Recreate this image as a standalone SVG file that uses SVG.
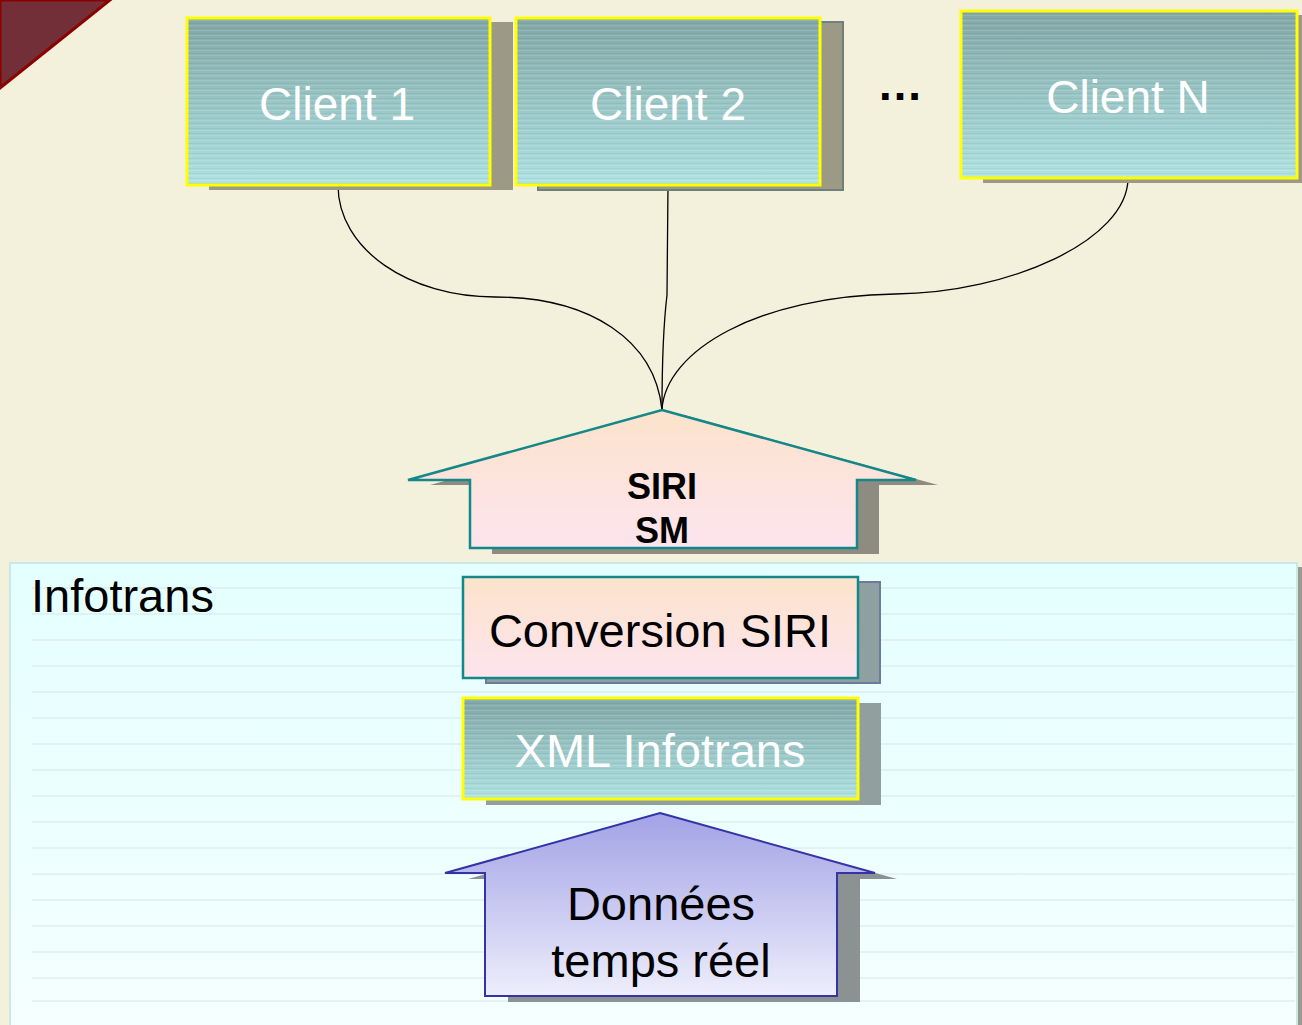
<svg xmlns="http://www.w3.org/2000/svg" width="1302" height="1025" viewBox="0 0 1302 1025">
<defs>
<linearGradient id="gClient" x1="0" y1="0" x2="0" y2="1"><stop offset="0" stop-color="#82A7A7"/><stop offset="1" stop-color="#B0E3E3"/></linearGradient>
<linearGradient id="gPeach" x1="0" y1="0" x2="0" y2="1"><stop offset="0" stop-color="#FCE3CB"/><stop offset="1" stop-color="#FDE4EE"/></linearGradient>
<linearGradient id="gBlue" x1="0" y1="0" x2="0" y2="1"><stop offset="0" stop-color="#A2A2E6"/><stop offset="1" stop-color="#EEEEFC"/></linearGradient>
<linearGradient id="gPanel" x1="0" y1="0" x2="0" y2="1"><stop offset="0" stop-color="#E4FFFF"/><stop offset="1" stop-color="#F5FFFF"/></linearGradient>
<pattern id="stripes" width="8" height="5" patternUnits="userSpaceOnUse"><rect x="0" y="0" width="8" height="1" fill="#ffffff" fill-opacity="0.12"/><rect x="0" y="3" width="8" height="1" fill="#000000" fill-opacity="0.05"/></pattern>
</defs>
<style>
.sh{fill:#9C9A84}
.client{fill:url(#gClient);stroke:#FFFF00;stroke-width:3}
.wt{font-family:"Liberation Sans",Arial,sans-serif;fill:#FFFFFF;text-anchor:middle}
.bt{font-family:"Liberation Sans",Arial,sans-serif;fill:#000000;text-anchor:middle}
.conn{fill:none;stroke:#000000;stroke-width:1.3}
.rule{stroke:#D8E6E6;stroke-width:1.2}
</style>
<rect x="0" y="0" width="1302" height="1025" fill="#F3F0DC"/>
<polygon points="0,0 110,0 0,88" fill="#722F37" stroke="#8B0000" stroke-width="3"/>

<g id="infotrans">
<rect x="1296" y="567" width="6" height="458" fill="#9A9A8E"/>
<rect x="10" y="563" width="1287" height="470" fill="url(#gPanel)" stroke="#CDE6E6" stroke-width="2"/>
<g class="rule">
<line x1="32" y1="588" x2="1295" y2="588"/><line x1="32" y1="614" x2="1295" y2="614"/><line x1="32" y1="640" x2="1295" y2="640"/><line x1="32" y1="666" x2="1295" y2="666"/><line x1="32" y1="692" x2="1295" y2="692"/><line x1="32" y1="718" x2="1295" y2="718"/><line x1="32" y1="744" x2="1295" y2="744"/><line x1="32" y1="770" x2="1295" y2="770"/><line x1="32" y1="796" x2="1295" y2="796"/><line x1="32" y1="822" x2="1295" y2="822"/><line x1="32" y1="848" x2="1295" y2="848"/><line x1="32" y1="874" x2="1295" y2="874"/><line x1="32" y1="900" x2="1295" y2="900"/><line x1="32" y1="926" x2="1295" y2="926"/><line x1="32" y1="952" x2="1295" y2="952"/><line x1="32" y1="978" x2="1295" y2="978"/><line x1="32" y1="1001" x2="1295" y2="1001"/>
</g>
<text class="bt" x="31" y="612" font-size="47" style="text-anchor:start">Infotrans</text>
</g>

<g id="connectors">
<path class="conn" d="M338,185 C338,250 410,297 495,297 C590,297 655,340 662,410"/>
<path class="conn" d="M668,185 L667,295 C664,320 662,370 662,410"/>
<path class="conn" d="M1128,178 C1128,240 1010,293 895,294 C760,296 665,350 662,410"/>
</g>

<g id="client1">
<rect class="sh" x="209" y="22" width="304" height="168"/>
<rect class="client" x="187" y="18" width="303" height="167"/>
<rect x="188" y="19" width="301" height="165" fill="url(#stripes)"/>
<text class="wt" x="337" y="120" font-size="46">Client 1</text>
</g>

<g id="client2">
<rect x="538" y="22" width="305" height="168" fill="#9C9A84" stroke="#6E807E" stroke-width="2"/>
<rect class="client" x="516" y="18" width="304" height="167"/>
<rect x="517" y="19" width="302" height="165" fill="url(#stripes)"/>
<text class="wt" x="668" y="120" font-size="46">Client 2</text>
</g>

<g id="ellipsis">
<text class="bt" x="900" y="100" font-size="46" font-weight="bold">…</text>
</g>

<g id="clientN">
<rect class="sh" x="983" y="15" width="319" height="168"/>
<rect class="client" x="961" y="11" width="336" height="167"/>
<rect x="962" y="12" width="334" height="165" fill="url(#stripes)"/>
<text class="wt" x="1128" y="113" font-size="46">Client N</text>
</g>

<g id="siri">
<polygon points="684,415 938,485 879,485 879,554 492,554 492,485 430,485" fill="#8E8C80"/>
<polygon points="662,410 916,480 857,480 857,548 470,548 470,480 408,480" fill="url(#gPeach)" stroke="#148888" stroke-width="2.5"/>
<text class="bt" x="662" y="499" font-size="36" font-weight="bold">SIRI</text>
<text class="bt" x="662" y="543" font-size="36" font-weight="bold">SM</text>
</g>

<g id="conversion">
<rect x="486" y="582" width="394" height="101" fill="#8FA0A0" stroke="#6E7A99" stroke-width="2"/>
<rect x="463" y="577" width="395" height="101" fill="url(#gPeach)" stroke="#148888" stroke-width="2.5"/>
<text class="bt" x="660" y="647" font-size="47">Conversion SIRI</text>
</g>

<g id="xml">
<rect x="486" y="703" width="395" height="102" fill="#919F9F"/>
<rect class="client" x="463" y="698" width="395" height="101"/>
<rect x="464" y="699" width="393" height="99" fill="url(#stripes)"/>
<text class="wt" x="660" y="767" font-size="47">XML Infotrans</text>
</g>

<g id="donnees">
<polygon points="682,819 897,879 860,879 860,1002 508,1002 508,879 468,879" fill="#8C9292"/>
<polygon points="660,813 875,873 837,873 837,996 485,996 485,873 445,873" fill="url(#gBlue)" stroke="#3434A8" stroke-width="2"/>
<text class="bt" x="661" y="920" font-size="47">Données</text>
<text class="bt" x="661" y="977" font-size="47">temps réel</text>
</g>
</svg>
